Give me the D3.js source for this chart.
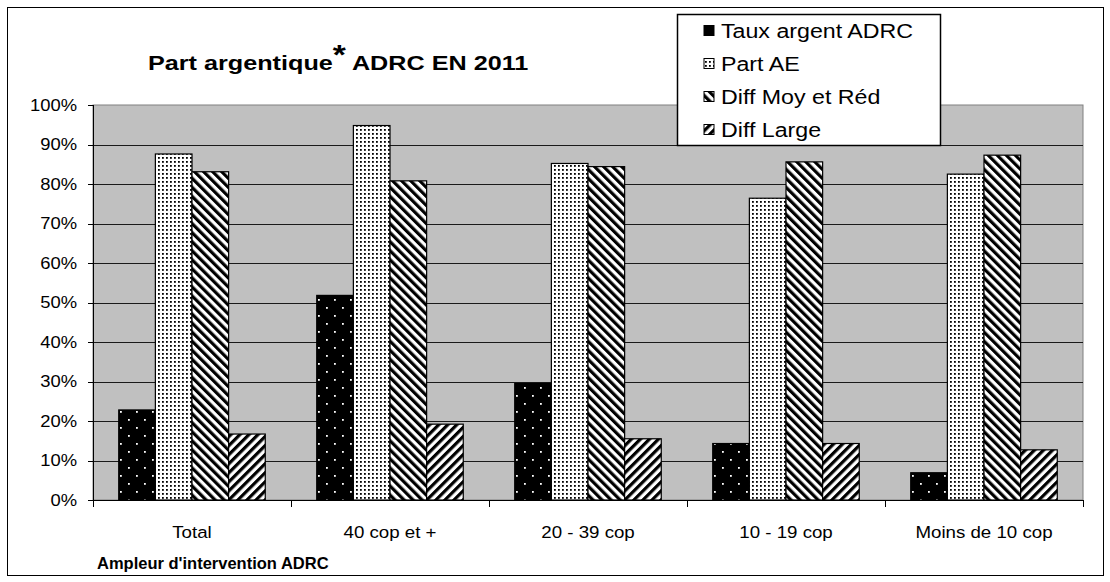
<!DOCTYPE html>
<html><head><meta charset="utf-8">
<script src="https://cdn.jsdelivr.net/npm/d3@7"></script>
<style>
html,body{margin:0;padding:0;background:#fff;}
text{font-family:"Liberation Sans",Arial,sans-serif;fill:#000;}
</style></head>
<body>
<svg id="chart" width="1110" height="582"></svg>
<script>
// ---- data ----
const categories = ["Total", "40 cop et +", "20 - 39 cop", "10 - 19 cop", "Moins de 10 cop"];
const seriesNames = ["Taux argent ADRC", "Part AE", "Diff Moy et Réd", "Diff Large"];
const tauxArgent = [22.8, 51.8, 29.5, 14.3, 6.9];
const partAE = [87.6, 94.8, 85.2, 76.4, 82.5];
const diffMoy = [83.1, 80.8, 84.4, 85.6, 87.3];
const diffLarge = [16.7, 19.2, 15.5, 14.3, 12.7];
const yTicks = [0, 10, 20, 30, 40, 50, 60, 70, 80, 90, 100];
const titleMain = "Part argentique";
const titleRest = " ADRC EN 2011";
const xTitle = "Ampleur d'intervention ADRC";

const seriesValues = [tauxArgent, partAE, diffMoy, diffLarge];
const patternIds = ["pTaux", "pAE", "pMoy", "pLarge"];

const svg = d3.select("#chart");
const plot = {left: 93, right: 1083, top: 105, bottom: 500};

// ---- patterns ----
const defs = svg.append("defs");
const p1 = defs.append("pattern").attr("id", "pTaux").attr("patternUnits", "userSpaceOnUse")
  .attr("width", 16).attr("height", 16);
p1.append("rect").attr("width", 16).attr("height", 16).attr("fill", "#000");
p1.append("rect").attr("x", 3).attr("y", 3).attr("width", 1.8).attr("height", 1.8).attr("fill", "#fff");
p1.append("rect").attr("x", 11).attr("y", 11).attr("width", 1.8).attr("height", 1.8).attr("fill", "#fff");
const p2 = defs.append("pattern").attr("id", "pAE").attr("patternUnits", "userSpaceOnUse")
  .attr("width", 4).attr("height", 4);
p2.append("rect").attr("width", 4).attr("height", 4).attr("fill", "#fff");
p2.append("rect").attr("x", 1).attr("y", 1).attr("width", 1.8).attr("height", 1.8).attr("fill", "#000");
const p3 = defs.append("pattern").attr("id", "pMoy").attr("patternUnits", "userSpaceOnUse")
  .attr("width", 6.4).attr("height", 6.4).attr("patternTransform", "rotate(-45)");
p3.append("rect").attr("width", 6.4).attr("height", 6.4).attr("fill", "#fff");
p3.append("rect").attr("width", 3.2).attr("height", 6.4).attr("fill", "#000");
const p4 = defs.append("pattern").attr("id", "pLarge").attr("patternUnits", "userSpaceOnUse")
  .attr("width", 6.4).attr("height", 6.4).attr("patternTransform", "rotate(45)");
p4.append("rect").attr("width", 6.4).attr("height", 6.4).attr("fill", "#fff");
p4.append("rect").attr("width", 3.2).attr("height", 6.4).attr("fill", "#000");

function txt(g, x, y, s, size, sx, anchor, bold) {
  return g.append("text")
    .attr("transform", `translate(${x},${y}) scale(${sx},1)`)
    .attr("text-anchor", anchor || "start")
    .style("font-size", size + "px")
    .style("font-weight", bold ? "bold" : "normal")
    .text(s);
}

// outer border
svg.append("rect").attr("x", 7.5).attr("y", 7.5).attr("width", 1096).attr("height", 568)
  .attr("fill", "#fff").attr("stroke", "#000").attr("stroke-width", 1);

// ---- scales ----
const x0 = d3.scaleBand().domain(categories).range([plot.left, plot.right]).padding(0);
const bw = x0.bandwidth();
const x1 = d3.scaleBand().domain(d3.range(seriesNames.length))
  .range([bw * 0.13, bw * 0.87]).padding(0);
const y = d3.scaleLinear().domain([0, 100]).range([plot.bottom, plot.top]);

// plot area
svg.append("rect").attr("x", plot.left).attr("y", plot.top)
  .attr("width", plot.right - plot.left).attr("height", plot.bottom - plot.top)
  .attr("fill", "#c0c0c0").attr("stroke", "#808080").attr("stroke-width", 1);

// gridlines
svg.append("g").selectAll("line").data(yTicks.filter(d => d > 0 && d < 100)).join("line")
  .attr("x1", plot.left).attr("x2", plot.right)
  .attr("y1", d => Math.round(y(d)) + 0.5).attr("y2", d => Math.round(y(d)) + 0.5)
  .attr("stroke", "#1a1a1a").attr("stroke-width", 1);

// bars
const groups = svg.append("g").selectAll("g").data(categories).join("g")
  .attr("transform", c => `translate(${x0(c)},0)`);
groups.selectAll("rect").data((c, i) => seriesValues.map((vals, s) => ({s, v: vals[i]}))).join("rect")
  .attr("x", d => x1(d.s))
  .attr("y", d => y(d.v))
  .attr("width", x1.bandwidth())
  .attr("height", d => y(0) - y(d.v))
  .attr("fill", d => `url(#${patternIds[d.s]})`)
  .attr("stroke", "#000").attr("stroke-width", 1.2);

// y axis
const yAxis = svg.append("g").attr("transform", `translate(${plot.left},0)`);
yAxis.append("line").attr("x1", 0.5).attr("x2", 0.5).attr("y1", plot.top).attr("y2", plot.bottom)
  .attr("stroke", "#000");
yTicks.forEach(t => {
  const yy = Math.round(y(t)) + 0.5;
  yAxis.append("line").attr("x1", -5).attr("x2", 0).attr("y1", yy).attr("y2", yy).attr("stroke", "#000");
  txt(yAxis, -16, y(t) + 5.5, t + "%", 16, 1.15, "end");
});

// x axis
const xAxis = svg.append("g");
xAxis.append("line").attr("x1", plot.left).attr("x2", plot.right)
  .attr("y1", plot.bottom + 0.5).attr("y2", plot.bottom + 0.5).attr("stroke", "#000");
const bounds = categories.map(c => x0(c)).concat([plot.right]);
bounds.forEach(b => {
  xAxis.append("line").attr("x1", Math.round(b) + 0.5).attr("x2", Math.round(b) + 0.5)
    .attr("y1", plot.bottom).attr("y2", plot.bottom + 7).attr("stroke", "#000");
});
categories.forEach(c => {
  txt(xAxis, x0(c) + bw / 2, 538, c, 17, 1.1, "middle");
});

// x axis title
txt(svg, 97, 569, xTitle, 16.5, 1.0, "start", true);

// title
const t = svg.append("text").attr("transform", "translate(148,70) scale(1.2,1)")
  .style("font-size", "21px").style("font-weight", "bold");
t.append("tspan").text(titleMain);
t.append("tspan").attr("dy", -6).style("font-size", "28px").text("*");
t.append("tspan").attr("dy", 6).text(titleRest);

// legend
const lg = svg.append("g");
lg.append("rect").attr("x", 677.5).attr("y", 14.5).attr("width", 263).attr("height", 131)
  .attr("fill", "#fff").attr("stroke", "#000").attr("stroke-width", 1.5);
seriesNames.forEach((n, i) => {
  const cy = 30.5 + i * 33;
  lg.append("rect").attr("x", 704).attr("y", cy - 5).attr("width", 10).attr("height", 10)
    .attr("fill", `url(#${patternIds[i]})`).attr("stroke", "#000").attr("stroke-width", 1);
  txt(lg, 721, cy + 7, n, 20, 1.16, "start");
});
</script>
</body></html>
